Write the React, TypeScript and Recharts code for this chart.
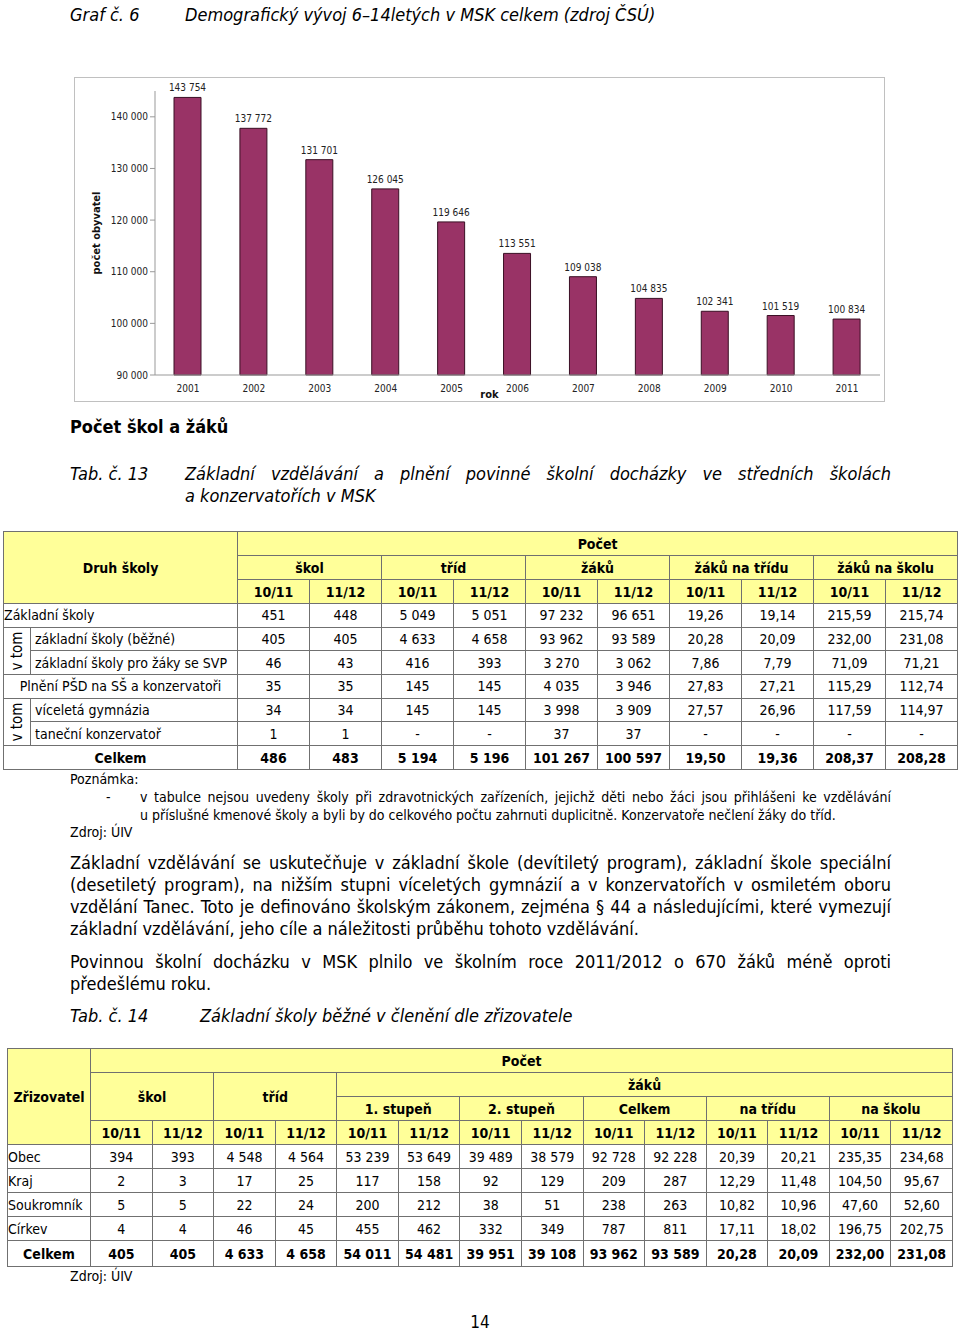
import React from "react";
import { BarChart, Bar, XAxis, YAxis, LabelList } from "recharts";

const years = ["2001", "2002", "2003", "2004", "2005", "2006", "2007", "2008", "2009", "2010", "2011"];
const population = [143754, 137772, 131701, 126045, 119646, 113551, 109038, 104835, 102341, 101519, 100834];
const yTicks = [90000, 100000, 110000, 120000, 130000, 140000];

// Tab. 13
const periods = ["10/11", "11/12"];
const tab13Groups = ["škol", "tříd", "žáků", "žáků na třídu", "žáků na školu"];
const zsTotal = ["451", "448", "5 049", "5 051", "97 232", "96 651", "19,26", "19,14", "215,59", "215,74"];
const zsBezne = ["405", "405", "4 633", "4 658", "93 962", "93 589", "20,28", "20,09", "232,00", "231,08"];
const zsSvp = ["46", "43", "416", "393", "3 270", "3 062", "7,86", "7,79", "71,09", "71,21"];
const psdTotal = ["35", "35", "145", "145", "4 035", "3 946", "27,83", "27,21", "115,29", "112,74"];
const gymnazia = ["34", "34", "145", "145", "3 998", "3 909", "27,57", "26,96", "117,59", "114,97"];
const konzervator = ["1", "1", "-", "-", "37", "37", "-", "-", "-", "-"];
const tab13Total = ["486", "483", "5 194", "5 196", "101 267", "100 597", "19,50", "19,36", "208,37", "208,28"];

// Tab. 14
const tab14Sub = ["1. stupeň", "2. stupeň", "Celkem", "na třídu", "na školu"];
const founders = ["Obec", "Kraj", "Soukromník", "Církev"];
const founderRows = [
  ["394", "393", "4 548", "4 564", "53 239", "53 649", "39 489", "38 579", "92 728", "92 228", "20,39", "20,21", "235,35", "234,68"],
  ["2", "3", "17", "25", "117", "158", "92", "129", "209", "287", "12,29", "11,48", "104,50", "95,67"],
  ["5", "5", "22", "24", "200", "212", "38", "51", "238", "263", "10,82", "10,96", "47,60", "52,60"],
  ["4", "4", "46", "45", "455", "462", "332", "349", "787", "811", "17,11", "18,02", "196,75", "202,75"],
];
const tab14Total = ["405", "405", "4 633", "4 658", "54 011", "54 481", "39 951", "39 108", "93 962", "93 589", "20,28", "20,09", "232,00", "231,08"];

const FONT = '"DejaVu Sans Condensed", "DejaVu Sans", sans-serif';
const YELLOW = "#FFFF99";
const BORDER = "1px solid #707070";

const fmt = (v: number) => String(v).replace(/\B(?=(\d{3})+(?!\d))/g, " ");

const chartData = years.map((y, i) => ({ rok: y, pocet: population[i] }));

const cell: React.CSSProperties = { border: BORDER, padding: 0, textAlign: "center", whiteSpace: "nowrap", overflow: "hidden" };
const hcell: React.CSSProperties = { ...cell, background: YELLOW, fontWeight: "bold" };

function VTom({ rows }: { rows: number }) {
  return (
    <td rowSpan={rows} style={{ ...cell, position: "relative" }}>
      <div style={{ position: "absolute", left: "50%", top: "50%", transform: "translate(-50%, -50%) rotate(-90deg)", fontSize: 15 }}>
        v tom
      </div>
    </td>
  );
}

const barLabel = (p: any) => (
  <text x={p.x + p.width / 2} y={p.y - 6} textAnchor="middle" fontSize={10} fill="#222" fontFamily={FONT}>
    {fmt(Number(p.value))}
  </text>
);

function Chart() {
  return (
    <div style={{ position: "absolute", left: 74, top: 77, width: 811, height: 325, border: "1px solid #c0c0c0", boxSizing: "border-box", background: "#fff" }}>
      <BarChart width={809} height={323} data={chartData} margin={{ top: 13, right: 4, left: 20, bottom: 0 }} barCategoryGap={0}>
        <XAxis
          dataKey="rok"
          height={26}
          tickLine={false}
          axisLine={{ stroke: "#999" }}
          tick={{ fontSize: 10, fill: "#222", fontFamily: FONT }}
          tickMargin={4}
          interval={0}
          label={{
            content: (p: any) => (
              <text x={p.viewBox.x + p.viewBox.width / 2 - 28} y={p.viewBox.y + p.viewBox.height - 3} textAnchor="middle" fontSize={11} fontWeight="bold" fontFamily={FONT} fill="#111">
                rok
              </text>
            ),
          }}
        />
        <YAxis
          width={60}
          domain={[90000, 145000]}
          ticks={yTicks}
          tickFormatter={fmt}
          tickLine={{ stroke: "#999" }}
          tickSize={5}
          axisLine={{ stroke: "#999" }}
          tick={{ fontSize: 10, fill: "#222", fontFamily: FONT }}
          label={{
            content: (p: any) => {
              const cx = p.viewBox.x + 1;
              const cy = p.viewBox.y + p.viewBox.height / 2;
              return (
                <text x={cx} y={cy} transform={`rotate(-90 ${cx} ${cy})`} textAnchor="middle" dominantBaseline="central" fontSize={11} fontWeight="bold" fontFamily={FONT} fill="#111">
                  počet obyvatel
                </text>
              );
            },
          }}
        />
        <Bar dataKey="pocet" fill="#993366" stroke="#3a0f24" strokeWidth={1} barSize={27} isAnimationActive={false}>
          <LabelList dataKey="pocet" content={barLabel} />
        </Bar>
      </BarChart>
    </div>
  );
}

function Table13() {
  const rowH = 23.7;
  const dataRow = (vals: string[], bold = false) => vals.map((v, i) => (
    <td key={i} style={{ ...cell, fontWeight: bold ? "bold" : "normal" }}>{v}</td>
  ));
  return (
    <table style={{ position: "absolute", left: 3, top: 531, width: 954, borderCollapse: "collapse", tableLayout: "fixed", fontFamily: FONT, fontSize: 14, color: "#000" }}>
      <colgroup>
        <col style={{ width: 27 }} />
        <col style={{ width: 207 }} />
        {Array.from({ length: 10 }).map((_, i) => <col key={i} style={{ width: 72 }} />)}
      </colgroup>
      <tbody>
        <tr style={{ height: 24 }}>
          <td colSpan={2} rowSpan={3} style={hcell}>Druh školy</td>
          <td colSpan={10} style={hcell}>Počet</td>
        </tr>
        <tr style={{ height: 24 }}>
          {tab13Groups.map((g) => <td key={g} colSpan={2} style={hcell}>{g}</td>)}
        </tr>
        <tr style={{ height: 24 }}>
          {tab13Groups.map((g) => periods.map((p) => <td key={g + p} style={hcell}>{p}</td>))}
        </tr>
        <tr style={{ height: rowH }}>
          <td colSpan={2} style={{ ...cell, textAlign: "left" }}>Základní školy</td>
          {dataRow(zsTotal)}
        </tr>
        <tr style={{ height: rowH }}>
          <VTom rows={2} />
          <td style={{ ...cell, textAlign: "left", paddingLeft: 4 }}>základní školy (běžné)</td>
          {dataRow(zsBezne)}
        </tr>
        <tr style={{ height: rowH }}>
          <td style={{ ...cell, textAlign: "left", paddingLeft: 4 }}>základní školy pro žáky se SVP</td>
          {dataRow(zsSvp)}
        </tr>
        <tr style={{ height: rowH }}>
          <td colSpan={2} style={cell}>Plnění PŠD na SŠ a konzervatoři</td>
          {dataRow(psdTotal)}
        </tr>
        <tr style={{ height: rowH }}>
          <VTom rows={2} />
          <td style={{ ...cell, textAlign: "left", paddingLeft: 4 }}>víceletá gymnázia</td>
          {dataRow(gymnazia)}
        </tr>
        <tr style={{ height: rowH }}>
          <td style={{ ...cell, textAlign: "left", paddingLeft: 4 }}>taneční konzervatoř</td>
          {dataRow(konzervator)}
        </tr>
        <tr style={{ height: 24 }}>
          <td colSpan={2} style={{ ...cell, fontWeight: "bold" }}>Celkem</td>
          {dataRow(tab13Total, true)}
        </tr>
      </tbody>
    </table>
  );
}

function Table14() {
  return (
    <table style={{ position: "absolute", left: 7, top: 1048, width: 946, borderCollapse: "collapse", tableLayout: "fixed", fontFamily: FONT, fontSize: 14, color: "#000" }}>
      <colgroup>
        <col style={{ width: 83 }} />
        {Array.from({ length: 14 }).map((_, i) => <col key={i} />)}
      </colgroup>
      <tbody>
        <tr style={{ height: 24 }}>
          <td rowSpan={4} style={hcell}>Zřizovatel</td>
          <td colSpan={14} style={hcell}>Počet</td>
        </tr>
        <tr style={{ height: 24 }}>
          <td colSpan={2} rowSpan={2} style={hcell}>škol</td>
          <td colSpan={2} rowSpan={2} style={hcell}>tříd</td>
          <td colSpan={10} style={hcell}>žáků</td>
        </tr>
        <tr style={{ height: 24 }}>
          {tab14Sub.map((s) => <td key={s} colSpan={2} style={hcell}>{s}</td>)}
        </tr>
        <tr style={{ height: 24 }}>
          {Array.from({ length: 7 }).map((_, g) => periods.map((p) => <td key={g + p} style={hcell}>{p}</td>))}
        </tr>
        {founders.map((f, r) => (
          <tr key={f} style={{ height: 24 }}>
            <td style={{ ...cell, textAlign: "left" }}>{f}</td>
            {founderRows[r].map((v, i) => <td key={i} style={cell}>{v}</td>)}
          </tr>
        ))}
        <tr style={{ height: 26 }}>
          <td style={{ ...cell, fontWeight: "bold" }}>Celkem</td>
          {tab14Total.map((v, i) => <td key={i} style={{ ...cell, fontWeight: "bold" }}>{v}</td>)}
        </tr>
      </tbody>
    </table>
  );
}

const abs = (left: number, top: number, extra: React.CSSProperties = {}): React.CSSProperties => ({
  position: "absolute", left, top, fontFamily: FONT, color: "#000", whiteSpace: "nowrap", ...extra,
});

const justLine: React.CSSProperties = { whiteSpace: "normal", textAlign: "justify", textAlignLast: "justify" };

export default function App() {
  return (
    <div style={{ position: "absolute", left: 0, top: 0, width: 960, height: 1332, background: "#fff", overflow: "hidden" }}>
      <div style={abs(70, 4, { fontSize: 18, lineHeight: "22px", fontStyle: "italic" })}>Graf č. 6</div>
      <div style={abs(185, 4, { fontSize: 18, lineHeight: "22px", fontStyle: "italic" })}>Demografický vývoj 6–14letých v MSK celkem (zdroj ČSÚ)</div>

      <Chart />

      <div style={abs(70, 416, { fontSize: 18, lineHeight: "22px", fontWeight: "bold" })}>Počet škol a žáků</div>

      <div style={abs(70, 463, { fontSize: 18, lineHeight: "22px", fontStyle: "italic" })}>Tab. č. 13</div>
      <div style={abs(185, 463, { fontSize: 18, lineHeight: "22px", fontStyle: "italic", width: 706, ...justLine })}>
        Základní vzdělávání a plnění povinné školní docházky ve středních školách
      </div>
      <div style={abs(185, 485, { fontSize: 18, lineHeight: "22px", fontStyle: "italic" })}>a konzervatořích v MSK</div>

      <Table13 />

      <div style={abs(70, 770, { fontSize: 14, lineHeight: "18px" })}>Poznámka:</div>
      <div style={abs(106, 788, { fontSize: 14, lineHeight: "18px" })}>-</div>
      <div style={abs(140, 788, { fontSize: 14, lineHeight: "18px", width: 751, ...justLine })}>
        v tabulce nejsou uvedeny školy při zdravotnických zařízeních, jejichž děti nebo žáci jsou přihlášeni ke vzdělávání
      </div>
      <div style={abs(140, 806, { fontSize: 14, lineHeight: "18px" })}>
        u příslušné kmenové školy a byli by do celkového počtu zahrnuti duplicitně. Konzervatoře nečlení žáky do tříd.
      </div>
      <div style={abs(70, 823, { fontSize: 14, lineHeight: "18px" })}>Zdroj: ÚIV</div>

      <div style={abs(70, 852, { fontSize: 18, lineHeight: "22px", width: 821, whiteSpace: "normal", textAlign: "justify" })}>
        Základní vzdělávání se uskutečňuje v základní škole (devítiletý program), základní škole speciální (desetiletý program), na nižším stupni víceletých gymnázií a v konzervatořích v osmiletém oboru vzdělání Tanec. Toto je definováno školským zákonem, zejména § 44 a následujícími, které vymezují základní vzdělávání, jeho cíle a náležitosti průběhu tohoto vzdělávání.
      </div>
      <div style={abs(70, 951, { fontSize: 18, lineHeight: "22px", width: 821, whiteSpace: "normal", textAlign: "justify" })}>
        Povinnou školní docházku v MSK plnilo ve školním roce 2011/2012 o 670 žáků méně oproti předešlému roku.
      </div>

      <div style={abs(70, 1005, { fontSize: 18, lineHeight: "22px", fontStyle: "italic" })}>Tab. č. 14</div>
      <div style={abs(200, 1005, { fontSize: 18, lineHeight: "22px", fontStyle: "italic" })}>Základní školy běžné v členění dle zřizovatele</div>

      <Table14 />

      <div style={abs(70, 1267, { fontSize: 14, lineHeight: "18px" })}>Zdroj: ÚIV</div>
      <div style={abs(0, 1311, { fontSize: 17, lineHeight: "22px", width: 960, textAlign: "center" })}>14</div>
    </div>
  );
}
